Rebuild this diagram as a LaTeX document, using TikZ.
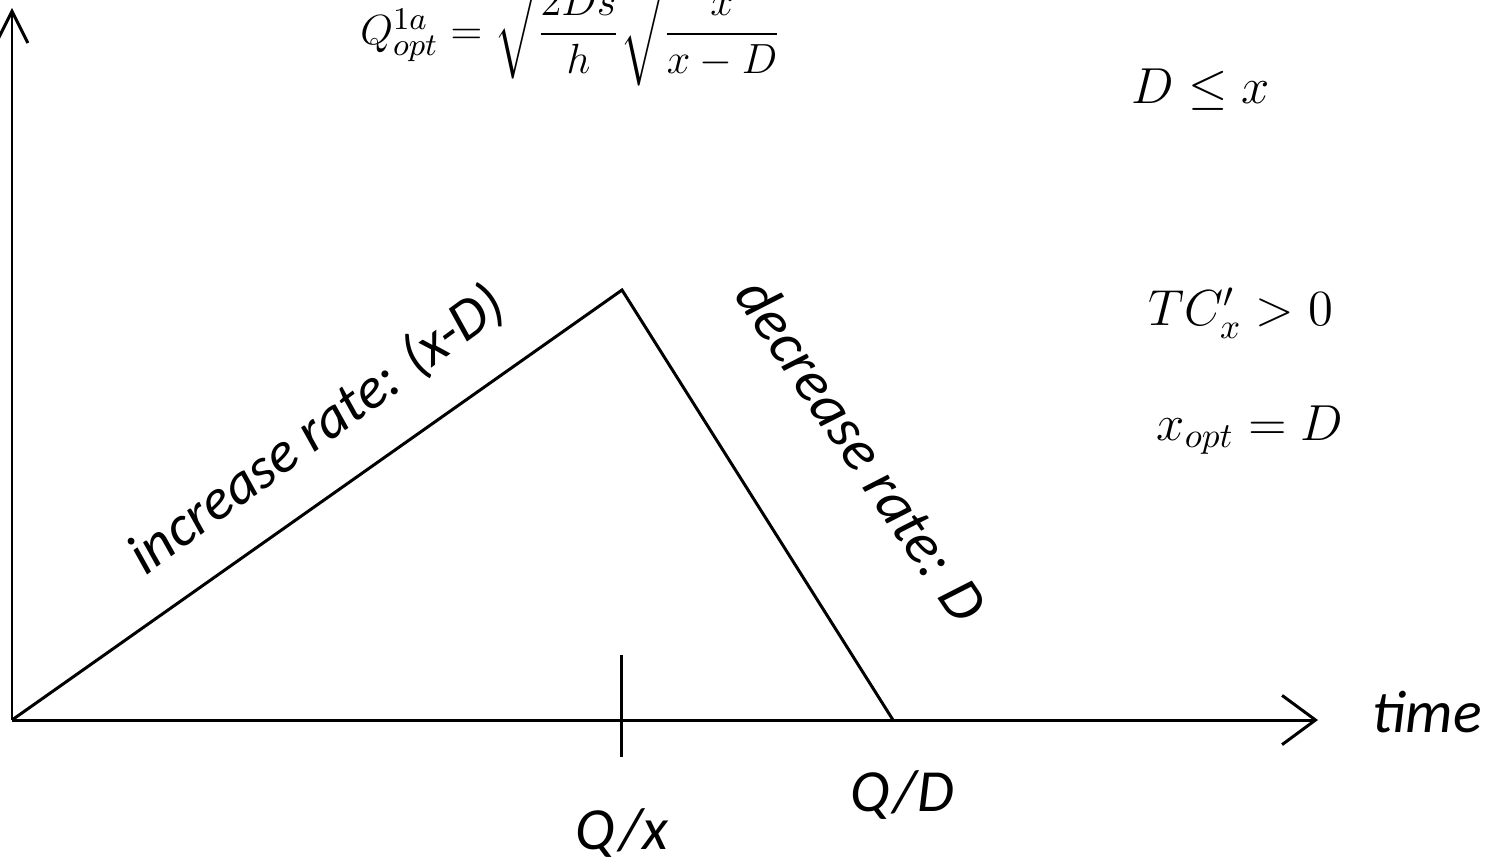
\documentclass[tikz,border=0pt]{standalone}
\usepackage{amsmath}
\usepackage[no-math]{fontspec}
\newfontfamily\lblfont{Carlito}
\usetikzlibrary{arrows.meta}
\begin{document}
\begin{tikzpicture}[x=0.01cm,y=0.01cm,
  axis/.style={line width=0.85pt},
  curve/.style={line width=0.85pt, line join=miter},
  lbl/.style={font=\lblfont\itshape\fontsize{17}{20}\selectfont, inner sep=0pt},
  eqn/.style={font=\fontsize{14}{17}\selectfont, inner sep=0pt}]
\useasboundingbox (0,0) rectangle (1489,863);
\clip (0,0) rectangle (1489,863);
% axes
\coordinate (O) at (12,143);
\coordinate (ytop) at (12,855);
\coordinate (xend) at (1318,143);
\draw[axis,-{Straight Barb[length=9pt,width=9pt]}] (O) -- (ytop);
\draw[axis,-{Straight Barb[length=9.5pt,width=14pt]}] (O) -- (xend);
% inventory triangle
\coordinate (peak) at (622,573);
\coordinate (empty) at (893,143);
\draw[curve] (O) -- (peak) -- (empty);
% tick at Q/x
\coordinate (ticktop) at (621,208);
\coordinate (tickbot) at (621,106);
\draw[axis] (ticktop) -- (tickbot);
% labels
\node[lbl] (qx) at (622,30) {Q/x};
\node[lbl] (qd) at (902,68) {Q/D};
\node[lbl] (time) at (1427,151) {time};
\node[lbl,rotate=36,font=\lblfont\itshape\fontsize{16.5}{20}\selectfont] (inc) at (317,433) {increase rate: (x-D)};
\node[lbl,rotate=-56] (dec) at (862,413) {decrease rate: D};
% formulas
\node[eqn,font=\fontsize{13}{16}\selectfont] (qopt) at (571,832) {$Q_{opt}^{1a}=\sqrt{\dfrac{2Ds}{h}}\sqrt{\dfrac{x}{x-D}}$};
\node[eqn] (cond) at (1201,773) {$D\leq x$};
\node[eqn] (deriv) at (1241,550) {$TC'_x>0$};
\node[eqn] (xopt) at (1250,433) {$x_{opt}=D$};
\end{tikzpicture}
\end{document}
